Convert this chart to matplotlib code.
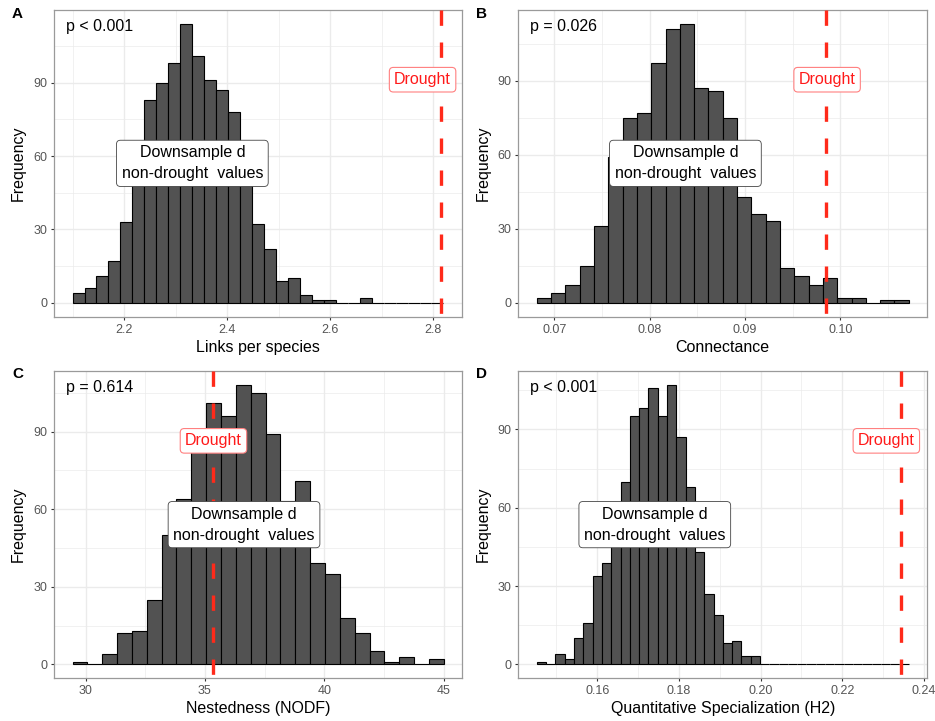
import numpy as np
import matplotlib
matplotlib.use('Agg')
import matplotlib.pyplot as plt

plt.rcParams['font.family'] = ['Liberation Sans', 'DejaVu Sans']

# histogram counts of the 1000 downsampled non-drought networks
links_counts = [4, 6, 11, 17, 33, 56, 83, 90, 98, 114, 101, 91, 87, 78, 53, 32,
                22, 9, 10, 3, 1, 1, 0, 0, 2, 0, 0, 0, 0, 0, 0]
links_start, links_width = 2.0994, 0.02323

connect_counts = [2, 4, 7, 15, 31, 59, 75, 77, 97, 111, 113, 87, 86, 75, 43, 36,
                  33, 14, 11, 7, 10, 2, 2, 0, 1, 1]
connect_start, connect_width = 0.06816, 0.0015

nodf_counts = [1, 0, 4, 12, 13, 25, 50, 64, 82, 101, 96, 108, 105, 89, 63, 71,
               39, 35, 18, 12, 5, 1, 3, 0, 2]
nodf_start, nodf_width = 29.457, 0.622

h2_counts = [1, 0, 4, 2, 10, 16, 34, 39, 56, 70, 95, 98, 106, 95, 107, 87, 68,
             43, 27, 19, 8, 9, 3, 3] + [0] * 16
h2_start, h2_width = 0.1452, 0.002277

drought_values = [2.815, 0.0985, 35.36, 0.2343]
null_means = [2.332, 0.08374, 36.64, 0.17408]
p_labels = ["p < 0.001", "p = 0.026", "p = 0.614", "p < 0.001"]
x_titles = ["Links per species", "Connectance", "Nestedness (NODF)",
            "Quantitative Specialization (H2)"]
x_ticks = [[2.2, 2.4, 2.6, 2.8], [0.07, 0.08, 0.09, 0.10],
           [30, 35, 40, 45], [0.16, 0.18, 0.20, 0.22, 0.24]]
x_ticklabels = [["2.2", "2.4", "2.6", "2.8"], ["0.07", "0.08", "0.09", "0.10"],
                ["30", "35", "40", "45"], ["0.16", "0.18", "0.20", "0.22", "0.24"]]
y_ticks = [0, 30, 60, 90]
panel_letters = ["A", "B", "C", "D"]

# where the red "Drought" tag sits (kept inside the panel)
drought_label_x = [2.779, 0.0986, 35.36, 0.2308]

panels = [
    (links_counts, links_start, links_width),
    (connect_counts, connect_start, connect_width),
    (nodf_counts, nodf_start, nodf_width),
    (h2_counts, h2_start, h2_width),
]

W, H = 935, 721
fig = plt.figure(figsize=(W / 100, H / 100), dpi=100)

# axes boxes in pixels: left, top, right, bottom
boxes = [(54, 10, 462, 316.7), (518.3, 10, 927.3, 316.7),
         (54, 371, 462.3, 678.3), (518.3, 371, 927.3, 678.3)]

grid_col = '#ebebeb'

for i, (counts, start, width) in enumerate(panels):
    l, t, r, b = boxes[i]
    ax = fig.add_axes([l / W, 1 - b / H, (r - l) / W, (b - t) / H])
    counts = np.array(counts)
    edges = start + width * np.arange(len(counts) + 1)

    ax.bar(edges[:-1], counts, width=width, align='edge', color='#525252',
           edgecolor='black', linewidth=0.8, zorder=2)

    lo = min(edges[0], drought_values[i])
    hi = max(edges[-1], drought_values[i])
    span = hi - lo
    ymax = counts.max()

    # drought value
    ax.plot([drought_values[i], drought_values[i]], [1.05 * ymax, -0.05 * ymax],
            color='#ff2a1a', linewidth=2.4, dashes=(4.6, 5.0), zorder=3,
            solid_capstyle='butt', dash_capstyle='butt')

    ax.set_xticks(x_ticks[i])
    ax.set_xticklabels(x_ticklabels[i])
    ax.set_yticks(y_ticks)
    xt = x_ticks[i]
    step = xt[1] - xt[0]
    minor_x = [xt[0] - step / 2] + [v + step / 2 for v in xt]
    ax.set_xticks(minor_x, minor=True)
    ax.set_yticks([15, 45, 75, 105], minor=True)
    ax.set_xlim(lo - 0.05 * span, hi + 0.05 * span)
    ax.set_ylim(-0.05 * ymax, 1.05 * ymax)

    ax.grid(True, which='major', color=grid_col, linewidth=1.0, zorder=0)
    ax.grid(True, which='minor', color=grid_col, linewidth=0.5, zorder=0)
    ax.set_axisbelow(True)
    ax.tick_params(which='major', length=2.5, width=0.8, color='#333333',
                   labelsize=9, labelcolor='#555555', pad=2.5)
    ax.tick_params(which='minor', length=0)
    for sp in ax.spines.values():
        sp.set_color('#9a9a9a')
        sp.set_linewidth(0.9)

    ax.set_xlabel(x_titles[i], fontsize=11.5, labelpad=3)
    ax.set_ylabel("Frequency", fontsize=11.5, labelpad=5)

    ax.text(0.029, 0.931, p_labels[i], transform=ax.transAxes, fontsize=11.5,
            ha='left', va='baseline', zorder=5)

    ax.text(null_means[i], ymax / 2, "Downsample d\nnon-drought  values",
            fontsize=11.5, ha='center', va='center', linespacing=1.5, zorder=5,
            bbox=dict(boxstyle='round,pad=0.32,rounding_size=0.25',
                      facecolor='white', edgecolor='#444444', linewidth=0.6))

    ax.text(drought_label_x[i], 0.8 * ymax, "Drought", fontsize=11.5,
            color='#ff1a1a', ha='center', va='center', zorder=5,
            bbox=dict(boxstyle='round,pad=0.3,rounding_size=0.25',
                      facecolor='white', edgecolor='#ff8080', linewidth=0.8))

    fig.text((l - 42) / W, 1 - (t - 3.5) / H, panel_letters[i], fontsize=11,
             fontweight='bold', ha='left', va='top')

fig.savefig('out.png', dpi=100)
